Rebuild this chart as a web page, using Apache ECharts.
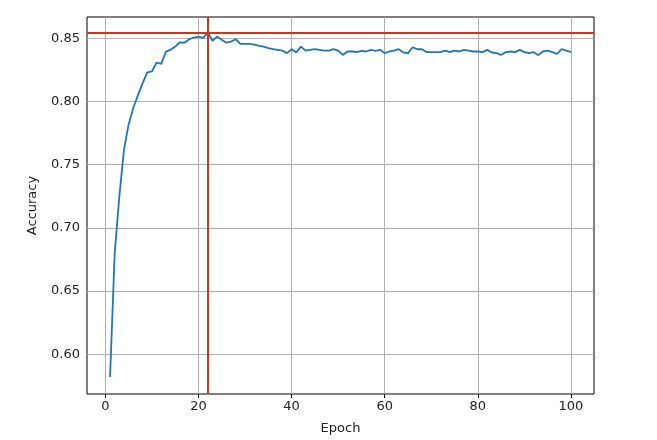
<!DOCTYPE html>
<html>
<head>
<meta charset="utf-8">
<script src="https://cdn.jsdelivr.net/npm/echarts@6/dist/echarts.min.js"></script>
<style>
html,body{margin:0;padding:0;background:#fff;}
#chart{width:657px;height:440px;}
</style>
</head>
<body>
<div id="chart"></div>
<script>
const epochs = [1,2,3,4,5,6,7,8,9,10,11,12,13,14,15,16,17,18,19,20,21,22,23,24,25,26,27,28,29,30,31,32,33,34,35,36,37,38,39,40,41,42,43,44,45,46,47,48,49,50,51,52,53,54,55,56,57,58,59,60,61,62,63,64,65,66,67,68,69,70,71,72,73,74,75,76,77,78,79,80,81,82,83,84,85,86,87,88,89,90,91,92,93,94,95,96,97,98,99,100];
const accuracy = [0.582,0.680,0.725,0.762,0.782,0.795,0.805,0.8145,0.823,0.8237,
0.8308,0.8297,0.8394,0.8408,0.8434,0.8468,0.8465,0.8492,0.8505,0.8512,
0.8503,0.8545,0.848,0.8513,0.8487,0.8465,0.8473,0.8492,0.8455,0.8455,
0.8455,0.845,0.844,0.8434,0.8421,0.8413,0.8408,0.8402,0.8382,0.8413,
0.8387,0.8434,0.8402,0.8408,0.8413,0.8408,0.8402,0.8402,0.8413,0.8402,
0.8368,0.8395,0.8395,0.839,0.840,0.8395,0.8408,0.840,0.8408,0.8382,
0.8395,0.8402,0.8413,0.8387,0.8382,0.8429,0.8413,0.8413,0.839,0.839,
0.839,0.839,0.8402,0.839,0.8402,0.8395,0.8408,0.8402,0.8395,0.8395,
0.839,0.8408,0.8387,0.8382,0.8368,0.839,0.8395,0.839,0.8408,0.839,
0.8382,0.839,0.8366,0.8395,0.8402,0.839,0.8376,0.8413,0.8402,0.839];
const xTicks = [0,20,40,60,80,100];
const yTicks = [0.60,0.65,0.70,0.75,0.80,0.85];
const bestEpoch = 22;
const bestAcc = 0.8545;

const FONT = 'DejaVu Sans';
const X_MIN = -3.95, X_MAX = 104.95, Y_MIN = 0.5685, Y_MAX = 0.8668;
const chart = echarts.init(document.getElementById('chart'), null, {renderer:'canvas'});
const gridLines = xTicks.map(v => [{coord: [v, Y_MIN]}, {coord: [v, Y_MAX]}])
  .concat(yTicks.map(v => [{coord: [X_MIN, v]}, {coord: [X_MAX, v]}]));
chart.setOption({
  animation: false,
  backgroundColor: '#ffffff',
  grid: {left: 87, right: 63, top: 17, bottom: 45, show: true, borderColor: '#000', borderWidth: 1, backgroundColor: 'transparent'},
  xAxis: {
    type: 'value', min: X_MIN, max: X_MAX,
    name: 'Epoch', nameLocation: 'middle', nameGap: 28,
    nameTextStyle: {fontFamily: FONT, fontSize: 13, color: '#222'},
    axisLine: {show: false},
    axisTick: {show: true, length: 4, customValues: xTicks, lineStyle: {color: '#000', width: 1}},
    axisLabel: {customValues: xTicks, margin: 6, fontFamily: FONT, fontSize: 13, color: '#222'},
    splitLine: {show: false}
  },
  yAxis: {
    type: 'value', min: Y_MIN, max: Y_MAX,
    name: 'Accuracy', nameLocation: 'middle', nameGap: 48, nameRotate: 90,
    nameTextStyle: {fontFamily: FONT, fontSize: 13, color: '#222'},
    axisLine: {show: false},
    axisTick: {show: true, length: 4, customValues: yTicks, lineStyle: {color: '#000', width: 1}},
    axisLabel: {customValues: yTicks, margin: 7, fontFamily: FONT, fontSize: 13, color: '#222',
      formatter: v => v.toFixed(2)},
    splitLine: {show: false}
  },
  series: [
    {
      type: 'line', data: [], z: 1, silent: true,
      markLine: {silent: true, symbol: 'none', z: 1, animation: false, precision: 6,
        label: {show: false}, emphasis: {disabled: true},
        lineStyle: {color: '#b0b0b0', width: 1, type: 'solid'},
        data: gridLines}
    },
    {
      type: 'line', z: 3, showSymbol: false, symbol: 'none', silent: true,
      data: epochs.map((e, i) => [e, accuracy[i]]),
      lineStyle: {color: '#1f77b4', width: 1.8},
      emphasis: {disabled: true}
    },
    {
      type: 'line', data: [], z: 5, silent: true,
      markLine: {silent: true, symbol: 'none', z: 6, animation: false, precision: 6,
        label: {show: false}, emphasis: {disabled: true},
        lineStyle: {color: '#c8381e', width: 2, type: 'solid'},
        data: [
          [{coord: [bestEpoch, Y_MIN]}, {coord: [bestEpoch, Y_MAX]}],
          [{coord: [X_MIN, bestAcc]}, {coord: [X_MAX, bestAcc]}]
        ]}
    }
  ]
});
</script>
</body>
</html>
